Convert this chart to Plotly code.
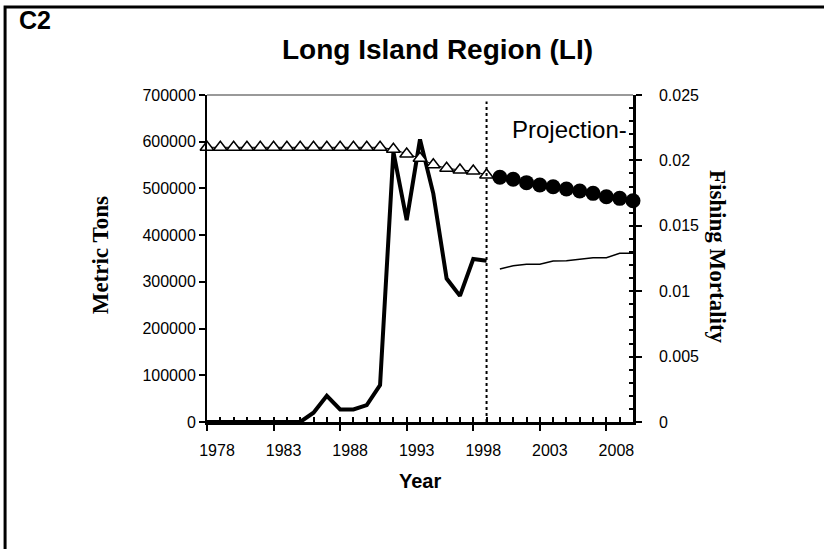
import plotly.graph_objects as go

# ---------------- data ----------------
years_hist = list(range(1978, 2000))
years_proj = list(range(2000, 2011))

landings_hist = [0, 0, 0, 0, 0, 0, 0, 0, 20000, 56000, 27000, 27000, 36000, 79000,
                 578000, 432000, 605000, 489000, 307000, 270000, 349000, 345000]
landings_proj = [327500, 334600, 337600, 337600, 344700, 345300, 348300, 351700,
                 351700, 361100, 361100]

f_hist = [0.0210] * 14 + [0.02085, 0.02049, 0.02016, 0.01967, 0.01940, 0.01927,
                          0.01919, 0.01888]
f_proj = [0.01871, 0.01856, 0.01830, 0.01812, 0.01799, 0.01781, 0.01766, 0.01748,
          0.01722, 0.01710, 0.01692]

projection_start = 1999
x_range = [1978, 2010]
y_left_range = [0, 700000]
y_right_range = [0, 0.025]
y_left_ticks = [0, 100000, 200000, 300000, 400000, 500000, 600000, 700000]
y_right_ticks = [0, 0.005, 0.01, 0.015, 0.02, 0.025]
y_right_labels = ["0", "0.005", "0.01", "0.015", "0.02", "0.025"]

SANS = "Liberation Sans, Arial, sans-serif"
SERIF = "Liberation Serif, Times New Roman, serif"

fig = go.Figure()

# historical metric tons (thick line)
fig.add_trace(go.Scatter(x=years_hist, y=landings_hist, mode="lines",
                         line=dict(color="black", width=4), xaxis="x", yaxis="y",
                         showlegend=False, cliponaxis=False))
# projected metric tons (thin line)
fig.add_trace(go.Scatter(x=years_proj, y=landings_proj, mode="lines",
                         line=dict(color="black", width=1.5), xaxis="x", yaxis="y",
                         showlegend=False))
# historical F (open triangles)
fig.add_trace(go.Scatter(x=years_hist, y=f_hist, mode="lines+markers",
                         line=dict(color="black", width=1),
                         marker=dict(symbol="triangle-up", size=12, color="white",
                                     line=dict(color="black", width=1.5)),
                         xaxis="x", yaxis="y2", showlegend=False, cliponaxis=False))
# projected F (filled circles)
fig.add_trace(go.Scatter(x=years_proj, y=f_proj, mode="lines+markers",
                         line=dict(color="black", width=1),
                         marker=dict(symbol="circle", size=15, color="black"),
                         xaxis="x2", yaxis="y3", showlegend=False, cliponaxis=False))

tickfont = dict(family=SANS, size=16, color="black")

fig.update_layout(
    width=824, height=549,
    margin=dict(l=207, r=191, t=95, b=127, autoexpand=False),
    paper_bgcolor="white", plot_bgcolor="white",
    xaxis=dict(range=x_range, tick0=1978, dtick=5, ticks="outside", ticklen=6,
               tickwidth=1.5, tickcolor="black", showgrid=False, zeroline=False,
               showline=True, linecolor="black", linewidth=2.5, tickfont=tickfont,
               ticklabelshift=10, ticklabelstandoff=6, anchor="y"),
    xaxis2=dict(range=x_range, overlaying="x", anchor="y", tick0=1978, dtick=1,
                ticks="inside", ticklen=5, tickwidth=1.5, tickcolor="black",
                showticklabels=False, showgrid=False, zeroline=False, showline=False),
    yaxis=dict(range=y_left_range, tickvals=y_left_ticks, tickformat="d",
               ticks="outside", ticklen=6, tickwidth=1.5, tickcolor="black",
               showgrid=False, zeroline=False, showline=True, linecolor="black",
               linewidth=2, tickfont=tickfont, anchor="x"),
    yaxis2=dict(range=y_right_range, tickvals=y_right_ticks, ticktext=y_right_labels,
                overlaying="y", side="right", anchor="x", ticks="outside", ticklen=6,
                tickwidth=1.5, tickcolor="black", showgrid=False, zeroline=False,
                showline=True, linecolor="black", linewidth=2.5, tickfont=tickfont,
                ticklabelstandoff=14),
    yaxis3=dict(range=y_right_range, overlaying="y", side="right", anchor="x2",
                tick0=0, dtick=0.001, ticks="inside", ticklen=4, tickwidth=1.5,
                tickcolor="black", showticklabels=False, showgrid=False,
                zeroline=False, showline=False),
)

# projection boundary
fig.add_shape(type="line", xref="x", yref="paper", x0=projection_start,
              x1=projection_start, y0=0, y1=0.98,
              line=dict(color="black", width=2, dash="dot"))
# top frame line of plot area
fig.add_shape(type="line", xref="paper", yref="paper", x0=0, x1=1, y0=1, y1=1,
              line=dict(color="#999999", width=2))
# outer border
fig.add_shape(type="rect", xref="paper", yref="paper", x0=-0.474, x1=1.5,
              y0=-0.5, y1=1.269, line=dict(color="black", width=3))

fig.add_annotation(text="<b>C2</b>", xref="paper", yref="paper", x=-0.404, y=1.229,
                   xanchor="center", yanchor="middle", showarrow=False,
                   font=dict(family=SANS, size=25, color="black"))
fig.add_annotation(text="<b>Long Island Region (LI)</b>", xref="paper", yref="paper",
                   x=0.542, y=1.138, xanchor="center", yanchor="middle",
                   showarrow=False, font=dict(family=SANS, size=28, color="black"))
fig.add_annotation(text="<b>Year</b>", xref="paper", yref="paper", x=0.5, y=-0.18,
                   xanchor="center", yanchor="middle", showarrow=False,
                   font=dict(family=SANS, size=20, color="black"))
fig.add_annotation(text="<b>Metric Tons</b>", xref="paper", yref="paper", x=-0.251,
                   y=0.51, textangle=-90, xanchor="center", yanchor="middle",
                   showarrow=False, font=dict(family=SERIF, size=23, color="black"))
fig.add_annotation(text="<b>Fishing Mortality</b>", xref="paper", yref="paper",
                   x=1.197, y=0.505, textangle=90, xanchor="center", yanchor="middle",
                   showarrow=False, font=dict(family=SERIF, size=23, color="black"))
fig.add_annotation(text="Projection-", xref="paper", yref="paper", x=0.99, y=0.896,
                   xanchor="right", yanchor="middle", showarrow=False,
                   font=dict(family=SANS, size=24, color="black"))

fig.write_html("out.html", config={"displayModeBar": False},
               post_script="document.body.style.margin='0px';")
